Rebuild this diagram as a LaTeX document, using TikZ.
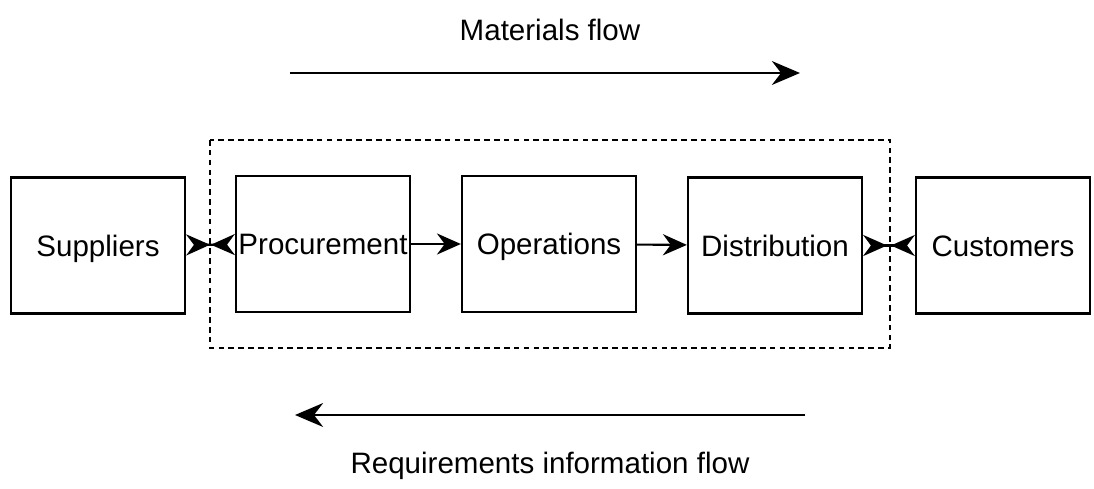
\documentclass[tikz,border=0pt]{standalone}
\usepackage{fontspec}
\setmainfont{Liberation Sans}
\usetikzlibrary{arrows.meta}
\usetikzlibrary{positioning}

\tikzset{
  stage/.style={draw,line width=1.6pt,minimum width=4.35cm,minimum height=3.4cm,
    inner sep=0pt,text height=15pt,text depth=0pt,font=\fontsize{21}{25}\selectfont},
  flowtxt/.style={font=\fontsize{21}{25}\selectfont},
  link/.style={line width=1.5pt,-{Stealth[length=17pt,width=15pt]}},
  meet/.style={line width=1.5pt,{Stealth[length=17pt,width=15pt,reversed]}-{Stealth[length=17pt,width=15pt,reversed]}},
  bigflow/.style={line width=1.3pt,-{Stealth[length=20pt,width=17pt]}}
}

\begin{document}
\begin{tikzpicture}[x=0.025cm,y=-0.025cm]
        \useasboundingbox (0,0) rectangle (1094,488);

        % the firm
        \draw[line width=1.1pt,dash pattern=on 4pt off 3pt] (210,140) rectangle (890,348);

        \node[stage] (sup) at (98,245.5) {Suppliers};
        \node[stage] (proc) at (323,244) {Procurement};
        \node[stage] (ops) at (549,244) {Operations};
        \node[stage] (dist) at (775,245.5) {Distribution};
        \node[stage] (cust) at (1003,245.5) {Customers};

        \draw[meet] (sup) -- (proc);
        \draw[link] (proc) -- (ops);
        \draw[link] (ops) -- (dist);
        \draw[meet] (dist) -- (cust);

        % flows
        \coordinate (mA) at (290,73);
        \coordinate (mB) at (800,73);
        \coordinate (rA) at (805,415);
        \coordinate (rB) at (295,415);
        \draw[bigflow] (mA) -- (mB);
        \draw[bigflow] (rA) -- (rB);
        \node[flowtxt] (mat) at (550,30) {Materials flow};
        \node[flowtxt] (req) at (550,466) {Requirements information flow};
    \end{tikzpicture}
\end{document}
